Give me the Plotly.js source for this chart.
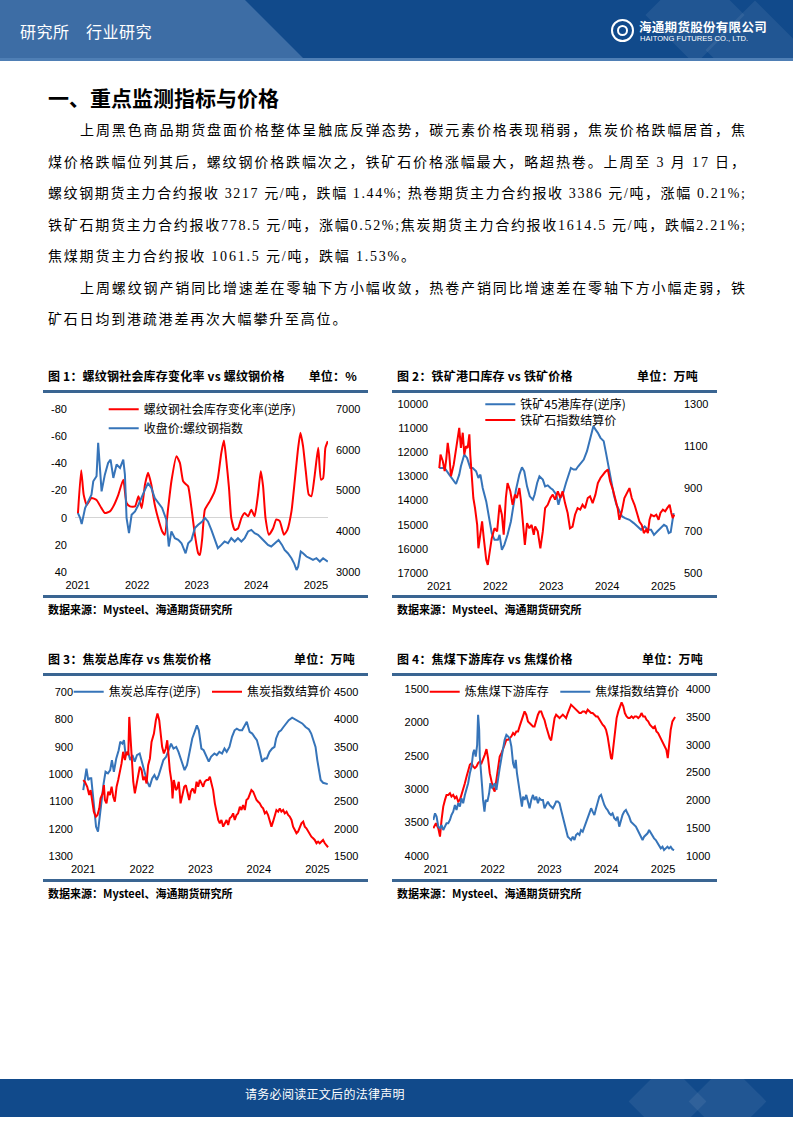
<!DOCTYPE html>
<html><head><meta charset="utf-8">
<script src="https://cdn.plot.ly/plotly-3.0.1.min.js"></script>
<style>
body{margin:0;width:793px;height:1122px;position:relative;background:#fff;overflow:hidden;font-family:"Noto Sans CJK SC",sans-serif;color:#000}
.a{position:absolute}
#hdr{left:0;top:0;width:793px;height:61px;background:#114a8b;overflow:hidden}
#hdrL{left:0;top:0;width:320px;height:61px;background:#3d6da5;clip-path:polygon(0 0,245px 0,306px 61px,0 61px)}
#hdrS{left:0;top:58px;width:793px;height:3px;background:#4f7fb5}
.dia{width:70px;height:70px;background:rgba(255,255,255,0.07);transform:rotate(45deg)}
#hdrT{left:20px;top:19px;font-size:16px;color:#fff;letter-spacing:0.5px;white-space:nowrap}
#logoC{left:611px;top:19px;width:19px;height:19px;border:2px solid #fff;border-radius:50%}
#logoC2{left:617px;top:25px;width:7px;height:7px;border:2px solid #fff;border-radius:50%}
#logoZh{left:639px;top:17px;font-size:12.5px;font-weight:bold;color:#fff;letter-spacing:0.3px;white-space:nowrap}
#logoEn{left:640px;top:34px;font-size:7.6px;color:#fff;font-family:"Liberation Sans",Arial,sans-serif;white-space:nowrap}
#h1{left:48px;top:83px;font-size:21px;font-weight:bold;white-space:nowrap;line-height:28px}
.ln{font-family:"Liberation Serif","Noto Sans CJK SC",serif;font-size:14px;line-height:20px;height:20px;white-space:nowrap;display:inline-block}
.ct{font-size:12px;font-weight:bold;line-height:16px;white-space:nowrap;letter-spacing:0.2px}
.rule{height:3px;background:#3a6592;width:325px}
.src{font-size:11px;font-weight:bold;line-height:14px;white-space:nowrap}
#ftr{left:0;top:1079px;width:793px;height:38px;background:#114a8b;overflow:hidden}
#ftrT{left:245px;top:1085px;font-size:12px;color:#fff;white-space:nowrap;letter-spacing:0.3px}
</style></head>
<body>
<div id="hdr" class="a">
  <div id="hdrL" class="a"></div>
  <div class="a dia" style="left:660px;top:-20px"></div>
  <div class="a dia" style="left:720px;top:15px"></div>
  <div id="hdrS" class="a"></div>
</div>
<div id="hdrT" class="a">研究所　行业研究</div>
<div id="logoC" class="a"></div>
<div id="logoC2" class="a"></div>
<div id="logoZh" class="a">海通期货股份有限公司</div>
<div id="logoEn" class="a">HAITONG FUTURES CO., LTD.</div>

<div id="h1" class="a">一、重点监测指标与价格</div>
<div class="a ln fit" data-w="665" style="left:80px;top:121px">上周黑色商品期货盘面价格整体呈触底反弹态势，碳元素价格表现稍弱，焦炭价格跌幅居首，焦</div>
<div class="a ln fit" data-w="697" style="left:48px;top:153px">煤价格跌幅位列其后，螺纹钢价格跌幅次之，铁矿石价格涨幅最大，略超热卷。上周至 3 月 17 日，</div>
<div class="a ln fit" data-w="697" style="left:48px;top:184px">螺纹钢期货主力合约报收 3217 元/吨，跌幅 1.44%; 热卷期货主力合约报收 3386 元/吨，涨幅 0.21%;</div>
<div class="a ln fit" data-w="697" style="left:48px;top:216px">铁矿石期货主力合约报收778.5 元/吨，涨幅0.52%;焦炭期货主力合约报收1614.5 元/吨，跌幅2.21%;</div>
<div class="a ln" style="left:48px;top:247px;letter-spacing:1.8px">焦煤期货主力合约报收 1061.5 元/吨，跌幅 1.53%。</div>
<div class="a ln fit" data-w="665" style="left:80px;top:279px">上周螺纹钢产销同比增速差在零轴下方小幅收敛，热卷产销同比增速差在零轴下方小幅走弱，铁</div>
<div class="a ln" style="left:48px;top:310px;letter-spacing:1.8px">矿石日均到港疏港差再次大幅攀升至高位。</div>

<div class="a ct" style="left:48px;top:368px">图 1：螺纹钢社会库存变化率 vs 螺纹钢价格</div>
<div class="a ct" style="left:257px;top:368px;width:100px;text-align:right">单位：%</div>
<div class="a rule" style="left:43px;top:390px"></div>
<div class="a rule" style="left:43px;top:595px"></div>
<div class="a src" style="left:48px;top:602px">数据来源：Mysteel、海通期货研究所</div>

<div class="a ct" style="left:397px;top:368px">图 2：铁矿港口库存 vs 铁矿价格</div>
<div class="a ct" style="left:598px;top:368px;width:100px;text-align:right">单位：万吨</div>
<div class="a rule" style="left:392px;top:390px"></div>
<div class="a rule" style="left:392px;top:595px"></div>
<div class="a src" style="left:397px;top:602px">数据来源：Mysteel、海通期货研究所</div>

<div class="a ct" style="left:48px;top:651px">图 3：焦炭总库存 vs 焦炭价格</div>
<div class="a ct" style="left:255px;top:651px;width:100px;text-align:right">单位：万吨</div>
<div class="a rule" style="left:43px;top:673px"></div>
<div class="a rule" style="left:43px;top:879px"></div>
<div class="a src" style="left:48px;top:886px">数据来源：Mysteel、海通期货研究所</div>

<div class="a ct" style="left:397px;top:651px">图 4：焦煤下游库存 vs 焦煤价格</div>
<div class="a ct" style="left:603px;top:651px;width:100px;text-align:right">单位：万吨</div>
<div class="a rule" style="left:392px;top:673px"></div>
<div class="a rule" style="left:392px;top:879px"></div>
<div class="a src" style="left:397px;top:886px">数据来源：Mysteel、海通期货研究所</div>

<div id="c1" class="a" style="left:43px;top:395px;width:325px;height:200px"></div>
<div id="c2" class="a" style="left:393px;top:395px;width:325px;height:200px"></div>
<div id="c3" class="a" style="left:43px;top:679px;width:325px;height:200px"></div>
<div id="c4" class="a" style="left:393px;top:679px;width:325px;height:200px"></div>

<div id="ftr" class="a">
  <div class="a dia" style="left:640px;top:-5px;width:55px;height:55px"></div>
  <div class="a dia" style="left:700px;top:-5px;width:55px;height:55px"></div>
</div>
<div id="ftrT" class="a">请务必阅读正文后的法律声明</div>

<script>
// ---------- shared tick labels ----------
const yearTickVals = ['2021-01-01','2022-01-01','2023-01-01','2024-01-01','2025-01-01'];
const yearTickText = ['2021','2022','2023','2024','2025'];

// ---------- Chart 1: rebar social inventory change rate (reversed) vs rebar index ----------
const c1RateName = '螺纹钢社会库存变化率(逆序)';
const c1RateDates = ['2021-01-03','2021-01-23','2021-02-07','2021-02-26','2021-03-27','2021-04-27','2021-05-27','2021-06-17','2021-07-18','2021-08-08',
 '2021-09-08','2021-10-08','2021-10-28','2021-11-18','2021-12-19','2022-01-09','2022-01-29','2022-02-18','2022-03-09','2022-03-29',
 '2022-04-19','2022-05-09','2022-06-03','2022-06-19','2022-07-10','2022-07-30','2022-08-30','2022-09-20','2022-10-10','2022-10-30',
 '2022-11-10','2022-11-30','2022-12-21','2023-01-10','2023-01-21','2023-02-04','2023-02-20','2023-03-22','2023-04-21','2023-05-11',
 '2023-06-01','2023-06-17','2023-07-01','2023-07-18','2023-08-01','2023-08-22','2023-09-11','2023-10-02','2023-10-22','2023-11-12',
 '2023-12-02','2023-12-22','2024-01-12','2024-01-29','2024-02-12','2024-02-27','2024-03-19','2024-04-13','2024-05-03','2024-05-24',
 '2024-06-19','2024-07-10','2024-08-04','2024-08-24','2024-09-14','2024-09-28','2024-10-14','2024-10-31','2024-11-18','2024-12-04',
 '2024-12-25','2025-01-15','2025-02-01','2025-02-14','2025-02-28','2025-03-15'];
const c1RateVals = [-3,-35,-17,-9.5,-14.5,-13,-7,-3.4,-4.6,-8.3,
 -17,-28,-10.8,-8.3,-8.3,-15.7,-7,-24.3,-33,-24.3,
 -9.5,0.3,10,12.6,-7,-26.8,-45.3,-40.3,-26.8,-24.3,
 -23,-7,12.6,26.2,27.4,15,-5.8,-12,-19.4,-29,
 -47.7,-56.8,-43,-21.9,0.3,9,8,0.3,-3.4,-1,
 -5.8,-1,-17,-34.2,-23,0.3,12.6,8,1.3,2.5,
 12.6,9,-4.6,-26.8,-51.4,-62.5,-52.6,-34,-17,-15.7,
 -31.7,-51.4,-28,-29,-51.4,-56.3];
const c1PriceName = '收盘价:螺纹钢指数';
const c1PriceDates = ['2021-01-03','2021-01-16','2021-01-26','2021-02-16','2021-03-07','2021-03-27','2021-04-07','2021-04-27','2021-05-07','2021-05-18',
 '2021-05-28','2021-06-17','2021-07-07','2021-07-22','2021-08-08','2021-08-28','2021-09-18','2021-10-08','2021-10-18','2021-10-28',
 '2021-11-12','2021-11-28','2021-12-19','2022-01-09','2022-01-29','2022-02-18','2022-03-09','2022-03-29','2022-04-19','2022-05-13',
 '2022-06-03','2022-06-29','2022-07-14','2022-07-30','2022-08-20','2022-09-10','2022-09-30','2022-10-25','2022-11-10','2022-11-30',
 '2022-12-21','2023-01-10','2023-02-04','2023-02-20','2023-03-11','2023-04-01','2023-04-21','2023-05-11','2023-06-01','2023-06-21',
 '2023-07-12','2023-08-01','2023-08-22','2023-09-11','2023-10-02','2023-10-22','2023-11-12','2023-12-02','2023-12-22','2024-01-12',
 '2024-02-02','2024-02-22','2024-03-13','2024-04-02','2024-04-23','2024-05-17','2024-06-07','2024-06-23','2024-07-13','2024-08-04',
 '2024-08-20','2024-09-04','2024-09-14','2024-09-30','2024-10-14','2024-11-04','2024-11-24','2024-12-14','2025-01-04','2025-01-25',
 '2025-02-14','2025-02-28','2025-03-15'];
const c1PriceVals = [4446,4330,4175,4570,4734,4897,5227,5350,6170,5389,
 4980,5390,5677,5759,5308,5636,5555,5759,5390,4330,
 3953,4404,4488,4650,4815,5020,5185,5062,4815,4692,
 4570,4282,3626,3995,3830,3788,3707,3460,3707,3788,
 4077,4158,4240,4330,4240,4034,3830,3584,3665,3749,
 3707,3830,3749,3830,3749,3830,3995,4034,3953,3913,
 3830,3749,3665,3626,3707,3788,3665,3542,3460,3338,
 3214,3050,3133,3502,3460,3380,3338,3296,3338,3256,
 3338,3296,3256];
const c1LeftTicks = [-80,-60,-40,-20,0,20,40];
const c1LeftText = ['-80','-60','-40','-20','0','20','40'];
const c1RightTicks = [3000,4000,5000,6000,7000];

// ---------- Chart 2: iron ore port inventory (reversed) vs iron ore index ----------
const c2StockName = '铁矿45港库存(逆序)';
const c2StockDates = ['2021-01-01','2021-02-05','2021-03-07','2021-03-29','2021-04-20','2021-05-11','2021-05-22','2021-06-13','2021-07-01','2021-07-22',
 '2021-08-07','2021-08-29','2021-09-13','2021-09-26','2021-10-11','2021-11-03','2021-11-24','2021-12-09','2021-12-27','2022-01-18',
 '2022-01-29','2022-02-13','2022-03-01','2022-03-22','2022-04-13','2022-05-01','2022-05-16','2022-06-07','2022-06-24','2022-07-09',
 '2022-07-27','2022-08-14','2022-09-03','2022-09-14','2022-10-01','2022-10-16','2022-11-07','2022-11-22','2022-12-09','2022-12-27',
 '2023-01-11','2023-02-03','2023-02-17','2023-03-01','2023-03-16','2023-04-07','2023-04-22','2023-05-09','2023-05-27','2023-06-11',
 '2023-06-26','2023-07-14','2023-08-01','2023-08-22','2023-09-07','2023-09-22','2023-10-03','2023-10-16','2023-11-01','2023-11-18',
 '2023-12-09','2023-12-24','2024-01-09','2024-01-27','2024-02-13','2024-03-01','2024-03-20','2024-04-07','2024-04-27','2024-05-25',
 '2024-06-22','2024-07-18','2024-08-09','2024-09-01','2024-09-22','2024-10-13','2024-11-01','2024-11-22','2024-12-13','2025-01-05',
 '2025-01-22','2025-02-05','2025-02-18','2025-03-03','2025-03-09'];
const c2StockVals = [12648,12648,12925,13133,13313,12925,12579,12094,12232,12648,
 12648,12787,13064,12925,13480,14034,14726,15350,15627,15627,
 15419,16043,15835,15419,14864,14172,13549,12925,12620,12787,
 13410,13826,13964,13757,13272,12994,13133,13410,13369,13480,
 13549,13757,14172,13895,13757,13272,12925,12648,12717,12717,
 12579,12440,12302,11955,11539,11262,10916,11054,11193,11401,
 11539,12024,12579,13202,13757,14172,14449,14657,14726,14796,
 14934,15073,15211,15073,15211,15211,15419,15281,15142,15004,
 15073,15350,15308,14796,14518];
const c2PriceName = '铁矿石指数结算价';
const c2PriceDates = ['2021-01-01','2021-01-09','2021-01-24','2021-02-05','2021-02-15','2021-02-25','2021-03-07','2021-03-18','2021-04-05','2021-04-20',
 '2021-05-01','2021-05-11','2021-05-22','2021-06-03','2021-06-13','2021-06-24','2021-07-05','2021-07-16','2021-07-22','2021-08-01',
 '2021-08-11','2021-08-22','2021-09-05','2021-09-13','2021-09-26','2021-10-07','2021-10-18','2021-11-03','2021-11-13','2021-11-24',
 '2021-12-09','2021-12-27','2022-01-13','2022-01-29','2022-02-13','2022-02-25','2022-03-11','2022-03-22','2022-04-09','2022-04-24',
 '2022-05-09','2022-05-22','2022-06-07','2022-06-18','2022-06-29','2022-07-13','2022-07-27','2022-08-11','2022-08-26','2022-09-09',
 '2022-09-18','2022-10-05','2022-10-22','2022-11-07','2022-11-22','2022-12-09','2022-12-27','2023-01-11','2023-01-26','2023-02-13',
 '2023-03-01','2023-03-16','2023-04-01','2023-04-18','2023-05-03','2023-05-20','2023-06-05','2023-06-22','2023-07-09','2023-07-24',
 '2023-08-09','2023-08-27','2023-09-11','2023-09-28','2023-10-16','2023-11-01','2023-11-18','2023-12-03','2023-12-18','2024-01-05',
 '2024-01-20','2024-02-07','2024-02-22','2024-03-09','2024-03-20','2024-04-05','2024-04-22','2024-05-07','2024-05-25','2024-06-09',
 '2024-06-27','2024-07-13','2024-07-29','2024-08-13','2024-08-27','2024-09-11','2024-09-22','2024-10-03','2024-10-13','2024-11-01',
 '2024-11-16','2024-12-01','2024-12-13','2024-12-29','2025-01-13','2025-01-26','2025-02-11','2025-02-22','2025-03-03','2025-03-13'];
const c2PriceVals = [997,1061,1029,982,1037,1116,1061,958,1013,1092,
 1124,1187,1092,1164,1061,1100,1092,1156,1061,966,
 855,807,728,617,697,744,665,562,538,602,
 665,712,697,823,776,681,855,926,887,823,
 871,855,902,839,728,633,736,712,728,681,
 720,697,617,697,807,823,855,871,847,887,
 855,887,831,784,712,720,776,807,800,823,
 807,855,863,831,871,926,950,966,978,990,
 934,895,855,807,752,792,855,879,902,855,
 823,784,744,728,689,705,689,752,776,768,
 776,752,784,800,792,807,823,784,760,776];
const c2LeftTicks = [10000,11000,12000,13000,14000,15000,16000,17000];
const c2RightTicks = [500,700,900,1100,1300];

// ---------- Chart 3: coke total inventory (reversed) vs coke index ----------
const c3StockName = '焦炭总库存(逆序)';
const c3StockDates = ['2021-01-01','2021-01-11','2021-01-21','2021-02-01','2021-02-11','2021-02-20','2021-03-02','2021-03-12','2021-03-22','2021-04-03',
 '2021-04-13','2021-04-23','2021-05-08','2021-05-20','2021-06-04','2021-06-18','2021-06-29','2021-07-11','2021-07-26','2021-08-10',
 '2021-08-20','2021-09-02','2021-09-12','2021-09-22','2021-10-07','2021-10-21','2021-11-04','2021-11-18','2021-12-02','2021-12-19',
 '2022-01-05','2022-01-19','2022-02-04','2022-02-19','2022-03-07','2022-03-21','2022-04-05','2022-04-17','2022-05-02','2022-05-16',
 '2022-06-02','2022-06-19','2022-07-03','2022-07-18','2022-08-04','2022-08-18','2022-09-05','2022-09-25','2022-10-10','2022-10-26',
 '2022-11-12','2022-11-27','2022-12-11','2022-12-23','2023-01-08','2023-01-22','2023-02-08','2023-02-23','2023-03-09','2023-03-30',
 '2023-04-14','2023-04-30','2023-05-17','2023-06-01','2023-06-15','2023-07-02','2023-07-18','2023-08-03','2023-08-17','2023-09-03',
 '2023-09-19','2023-10-04','2023-10-18','2023-11-05','2023-11-21','2023-12-05','2023-12-20','2024-01-06','2024-01-22','2024-02-06',
 '2024-02-20','2024-03-08','2024-03-24','2024-04-08','2024-04-18','2024-05-05','2024-05-19','2024-06-03','2024-06-20','2024-07-06',
 '2024-07-27','2024-08-17','2024-09-08','2024-09-28','2024-10-19','2024-11-09','2024-11-23','2024-12-08','2024-12-20','2024-12-31',
 '2025-01-11','2025-01-21','2025-02-05','2025-02-21','2025-03-06'];
const c3StockVals = [1059,1010,980,1022,1016,1016,1083,1144,1193,1211,
 1156,1095,1035,992,998,986,949,992,943,913,
 882,889,876,931,919,949,931,955,931,925,
 962,992,1028,1047,1016,1004,1022,1004,974,949,
 937,907,889,907,901,919,949,986,968,919,
 870,846,822,840,907,913,937,955,937,925,
 931,919,925,907,919,901,864,840,834,840,
 840,822,809,846,852,864,876,913,955,943,
 943,919,907,901,870,846,840,828,815,803,
 794,801,809,815,828,837,852,876,901,949,
 992,1022,1032,1035,1037];
const c3PriceName = '焦炭指数结算价';
const c3PriceDates = ['2021-01-01','2021-01-11','2021-01-26','2021-02-07','2021-02-16','2021-02-28','2021-03-08','2021-03-21','2021-03-31','2021-04-11',
 '2021-04-19','2021-05-02','2021-05-10','2021-05-16','2021-05-26','2021-06-06','2021-06-16','2021-06-27','2021-07-07','2021-07-17',
 '2021-07-28','2021-08-07','2021-08-18','2021-08-28','2021-09-07','2021-09-18','2021-09-28','2021-10-09','2021-10-15','2021-10-23',
 '2021-10-31','2021-11-09','2021-11-19','2021-11-29','2021-12-10','2021-12-20','2021-12-31','2022-01-10','2022-01-20','2022-01-31',
 '2022-02-10','2022-02-21','2022-03-03','2022-03-18','2022-03-30','2022-04-09','2022-04-20','2022-04-28','2022-05-08','2022-05-19',
 '2022-05-31','2022-06-09','2022-06-15','2022-06-25','2022-07-06','2022-07-12','2022-07-20','2022-08-02','2022-08-10','2022-08-20',
 '2022-08-31','2022-09-12','2022-09-23','2022-10-03','2022-10-11','2022-10-24','2022-11-03','2022-11-14','2022-11-28','2022-12-09',
 '2022-12-19','2022-12-29','2023-01-09','2023-01-19','2023-01-29','2023-02-09','2023-02-19','2023-03-02','2023-03-12','2023-03-22',
 '2023-04-02','2023-04-12','2023-04-23','2023-05-03','2023-05-13','2023-05-24','2023-06-03','2023-06-14','2023-06-24','2023-07-04',
 '2023-07-15','2023-07-25','2023-08-04','2023-08-15','2023-08-25','2023-09-05','2023-09-15','2023-09-25','2023-10-06','2023-10-16',
 '2023-10-27','2023-11-06','2023-11-16','2023-11-27','2023-12-07','2023-12-18','2023-12-28','2024-01-07','2024-01-18','2024-01-28',
 '2024-02-08','2024-02-18','2024-02-28','2024-03-10','2024-03-20','2024-03-30','2024-04-10','2024-04-20','2024-05-01','2024-05-11',
 '2024-05-21','2024-06-01','2024-06-11','2024-06-22','2024-07-02','2024-07-12','2024-07-23','2024-08-02','2024-08-13','2024-08-23',
 '2024-09-02','2024-09-13','2024-09-23','2024-10-04','2024-10-14','2024-10-24','2024-11-04','2024-11-14','2024-11-24','2024-12-05',
 '2024-12-15','2024-12-26','2025-01-05','2025-01-15','2025-01-26','2025-02-05','2025-02-16','2025-02-26','2025-03-08'];
const c3PriceVals = [2889,2858,2767,2615,2706,2463,2311,2220,2250,2372,
 2554,2645,2797,2524,2463,2676,2615,2767,2584,2493,
 2767,2889,3041,3193,3406,3254,3406,3345,4044,3588,
 3162,2858,2645,2797,2949,3132,3071,2889,2949,2828,
 3162,3284,3588,3740,3984,4105,3984,3710,3497,3375,
 3466,3618,3406,3071,2858,2554,2889,2706,2737,2858,
 2463,2615,2767,2797,2676,2524,2676,2737,2645,2858,
 2767,2889,2828,2767,2858,2889,2889,2949,2828,2706,
 2463,2280,2159,2098,2159,2037,2098,2159,2067,2189,
 2220,2280,2159,2250,2280,2402,2341,2432,2341,2524,
 2554,2645,2706,2676,2584,2524,2493,2463,2402,2372,
 2280,2311,2250,2159,2037,2128,2220,2341,2311,2372,
 2311,2341,2280,2311,2250,2220,2159,2037,1976,1915,
 1946,2037,2098,2128,2037,2007,1946,1885,1854,1824,
 1794,1733,1763,1733,1763,1794,1733,1702,1660];
const c3LeftTicks = [700,800,900,1000,1100,1200,1300];
const c3RightTicks = [1500,2000,2500,3000,3500,4000,4500];

// ---------- Chart 4: coking coal downstream inventory vs coking coal index ----------
const c4StockName = '炼焦煤下游库存';
const c4StockDates = ['2020-12-15','2021-01-01','2021-01-16','2021-01-27','2021-02-06','2021-02-17','2021-02-28','2021-03-10','2021-03-21','2021-04-01',
 '2021-04-11','2021-04-22','2021-05-03','2021-05-13','2021-05-24','2021-06-04','2021-06-14','2021-06-25','2021-07-06','2021-07-17',
 '2021-07-27','2021-08-07','2021-08-18','2021-08-28','2021-09-08','2021-09-19','2021-09-29','2021-10-10','2021-10-21','2021-10-31',
 '2021-11-11','2021-11-22','2021-12-02','2021-12-13','2021-12-24','2022-01-03','2022-01-14','2022-01-25','2022-02-04','2022-02-15',
 '2022-02-26','2022-03-08','2022-03-19','2022-03-30','2022-04-10','2022-04-20','2022-05-01','2022-05-12','2022-05-22','2022-06-02',
 '2022-06-13','2022-06-23','2022-07-04','2022-07-15','2022-07-25','2022-08-05','2022-08-16','2022-08-26','2022-09-06','2022-09-17',
 '2022-09-27','2022-10-08','2022-10-19','2022-10-29','2022-11-09','2022-11-20','2022-11-30','2022-12-11','2022-12-22','2023-01-02',
 '2023-01-12','2023-01-23','2023-02-03','2023-02-13','2023-02-24','2023-03-07','2023-03-17','2023-03-28','2023-04-08','2023-04-18',
 '2023-04-29','2023-05-10','2023-05-20','2023-05-31','2023-06-11','2023-06-21','2023-07-02','2023-07-13','2023-07-23','2023-08-03',
 '2023-08-14','2023-08-24','2023-09-04','2023-09-15','2023-09-26','2023-10-06','2023-10-17','2023-10-28','2023-11-07','2023-11-18',
 '2023-11-29','2023-12-09','2023-12-20','2023-12-31','2024-01-10','2024-01-21','2024-02-01','2024-02-07','2024-02-16','2024-02-26',
 '2024-03-08','2024-03-19','2024-03-29','2024-04-09','2024-04-20','2024-04-30','2024-05-11','2024-05-22','2024-06-01','2024-06-12',
 '2024-06-23','2024-07-03','2024-07-14','2024-07-25','2024-08-05','2024-08-15','2024-08-26','2024-09-06','2024-09-16','2024-09-27',
 '2024-10-08','2024-10-18','2024-10-29','2024-11-09','2024-11-19','2024-11-30','2024-12-11','2024-12-21','2025-01-01','2025-01-12',
 '2025-01-22','2025-01-31','2025-02-08','2025-02-19','2025-03-02','2025-03-13','2025-03-19'];
const c4StockVals = [3585,3510,3585,3710,3460,3260,3160,3085,3085,3060,
 3110,3085,3135,3110,3185,3160,3085,3010,2910,2810,
 2710,2635,2610,2660,2685,2660,2610,2585,2610,2560,
 2485,2400,2535,2760,2885,2985,3035,2860,2660,2510,
 2460,2385,2335,2260,2260,2235,2210,2160,2185,2135,
 2135,2060,1985,1910,1835,1885,1985,2010,2035,2060,
 2060,1960,1885,1835,1835,1910,1960,2060,2160,2235,
 2270,2110,1935,1885,1910,1935,1910,1885,1910,1935,
 1860,1785,1735,1760,1785,1810,1835,1860,1860,1835,
 1835,1860,1810,1835,1860,1860,1885,1910,1910,1960,
 2010,2035,2060,2110,2210,2360,2535,2550,2360,2110,
 1935,1835,1760,1700,1760,1860,1910,1935,1935,1910,
 1935,1910,1910,1935,1910,1860,1910,1910,1960,1985,
 2035,2060,2085,2060,2135,2160,2210,2260,2310,2360,
 2410,2535,2335,2110,1985,1935,1920];
const c4PriceName = '焦煤指数结算价';
const c4PriceDates = ['2020-12-15','2020-12-26','2021-01-05','2021-01-16','2021-01-27','2021-02-06','2021-02-17','2021-02-28','2021-03-10','2021-03-21',
 '2021-04-01','2021-04-11','2021-04-22','2021-05-03','2021-05-13','2021-05-24','2021-06-04','2021-06-14','2021-06-25','2021-07-06',
 '2021-07-17','2021-07-27','2021-08-07','2021-08-18','2021-08-28','2021-09-04','2021-09-14','2021-09-23','2021-09-29','2021-10-06',
 '2021-10-10','2021-10-16','2021-10-25','2021-10-31','2021-11-09','2021-11-17','2021-11-28','2021-12-09','2021-12-17','2021-12-26',
 '2022-01-03','2022-01-14','2022-01-25','2022-02-04','2022-02-15','2022-02-26','2022-03-08','2022-03-19','2022-03-30','2022-04-10',
 '2022-04-20','2022-05-01','2022-05-12','2022-05-22','2022-05-29','2022-06-06','2022-06-17','2022-06-28','2022-07-08','2022-07-15',
 '2022-07-25','2022-08-05','2022-08-16','2022-08-26','2022-09-06','2022-09-17','2022-09-27','2022-10-08','2022-10-19','2022-10-29',
 '2022-11-09','2022-11-20','2022-11-30','2022-12-11','2022-12-22','2023-01-02','2023-01-12','2023-01-23','2023-02-03','2023-02-13',
 '2023-02-24','2023-03-07','2023-03-17','2023-03-28','2023-04-08','2023-04-18','2023-04-29','2023-05-10','2023-05-20','2023-05-31',
 '2023-06-11','2023-06-21','2023-07-02','2023-07-13','2023-07-23','2023-08-03','2023-08-14','2023-08-24','2023-09-04','2023-09-15',
 '2023-09-26','2023-10-06','2023-10-17','2023-10-28','2023-11-07','2023-11-18','2023-11-29','2023-12-09','2023-12-20','2023-12-31',
 '2024-01-10','2024-01-21','2024-02-01','2024-02-11','2024-02-22','2024-03-04','2024-03-14','2024-03-25','2024-04-05','2024-04-15',
 '2024-04-26','2024-05-07','2024-05-17','2024-05-28','2024-06-08','2024-06-19','2024-06-29','2024-07-10','2024-07-21','2024-07-31',
 '2024-08-11','2024-08-22','2024-09-01','2024-09-12','2024-09-23','2024-10-03','2024-10-14','2024-10-25','2024-11-04','2024-11-15',
 '2024-11-26','2024-12-06','2024-12-17','2024-12-28','2025-01-07','2025-01-18','2025-01-29','2025-02-08','2025-02-19','2025-03-02',
 '2025-03-13'];
const c4PriceVals = [1647,1767,1707,1527,1497,1557,1467,1527,1587,1587,
 1647,1737,1797,1917,1827,1947,1887,2037,1947,2097,
 2187,2307,2487,2607,2847,2907,2787,2997,3537,3267,
 2787,2487,2247,2007,1797,2007,1977,2127,2307,2217,
 2247,2307,2187,2427,2577,2757,2907,3087,3177,3147,
 3117,2967,2667,2577,2727,2487,2247,2007,1887,2067,
 2007,2097,1947,1857,2007,2097,2007,2067,1947,2037,
 2007,2007,1857,1917,1977,1917,1887,1857,1917,1977,
 1977,1947,1827,1707,1587,1437,1347,1317,1287,1347,
 1287,1377,1407,1377,1467,1437,1527,1587,1707,1797,
 1857,1797,1737,1857,1977,2067,2097,2007,1917,1857,
 1827,1767,1737,1767,1677,1647,1707,1527,1647,1737,
 1797,1827,1767,1707,1617,1587,1557,1527,1467,1407,
 1347,1287,1347,1377,1407,1467,1407,1347,1317,1287,
 1227,1197,1137,1167,1107,1137,1167,1137,1167,1119,
 1107];
const c4LeftTicks = [1500,2000,2500,3000,3500,4000];
const c4RightTicks = [1000,1500,2000,2500,3000,3500,4000];

// ---------- paragraph line fitting (even character spacing) ----------
function fitLines() {
  document.querySelectorAll('.fit').forEach(function (el) {
    const target = parseFloat(el.dataset.w);
    el.style.letterSpacing = '0px';
    const nat = el.getBoundingClientRect().width;
    const n = Array.from(el.textContent).length;
    el.style.letterSpacing = ((target - nat) / (n - 1)) + 'px';
  });
}
fitLines();
if (document.fonts && document.fonts.ready) document.fonts.ready.then(fitLines);

// ---------- styling ----------
const RED = '#ff0000';
const BLUE = '#3674b9';
const tickFont = {family:'"Liberation Sans", Arial, sans-serif', size:11, color:'#000'};
const legFont = {family:'"Noto Sans CJK SC", sans-serif', size:12, color:'#000'};
const W = 325, H = 200;

function leg(px, py) {
  return {x: px / W, y: 1 - py / H, xref:'container', yref:'container', xanchor:'left', yanchor:'middle',
          bgcolor:'rgba(0,0,0,0)', borderwidth:0, font:legFont, orientation:'v', itemclick:false};
}
function yAx(range, vals, text, side, standoff, extra) {
  const a = {range: range, tickvals: vals, ticktext: text || vals.map(String), showgrid:false, zeroline:false,
    showline:false, ticks:'', tickfont:tickFont, ticklabelstandoff: standoff, fixedrange:true};
  if (side === 'right') { a.overlaying = 'y'; a.side = 'right'; }
  return Object.assign(a, extra || {});
}
function xAx(range) {
  return {type:'date', range: range, tickvals: yearTickVals, ticktext: yearTickText, showgrid:false, zeroline:false,
    showline:false, ticks:'', tickfont:tickFont, ticklabelstandoff: 5, fixedrange:true};
}
function line(x, y, name, color, yaxis, legend, shape) {
  return {type:'scatter', mode:'lines', x:x, y:y, name:name, yaxis:yaxis, legend:legend, hoverinfo:'skip',
          line:{color:color, width:2, shape: shape || 'linear', smoothing:0.5}};
}
function baseLayout(margin) {
  return {width:W, height:H, margin:Object.assign({pad:0, autoexpand:false}, margin),
          paper_bgcolor:'rgba(0,0,0,0)', plot_bgcolor:'rgba(0,0,0,0)', showlegend:true};
}
const cfg = {staticPlot:true, displayModeBar:false};

// Chart 1
Plotly.newPlot('c1', [
  line(c1RateDates, c1RateVals, c1RateName, RED, 'y', 'legend', 'spline'),
  line(c1PriceDates, c1PriceVals, c1PriceName, BLUE, 'y2', 'legend2')
], Object.assign(baseLayout({l:32, r:40, t:14.3, b:23.3}), {
  xaxis: xAx(['2020-12-16','2025-03-16']),
  yaxis: yAx([40,-80], c1LeftTicks, c1LeftText, 'left', 7, {zeroline:true, zerolinecolor:'#d4d4d4', zerolinewidth:1}),
  yaxis2: yAx([3000,7000], c1RightTicks, null, 'right', 7),
  legend: leg(60.7, 14.3), legend2: leg(60.7, 33.3)
}), cfg);

// Chart 2
Plotly.newPlot('c2', [
  line(c2StockDates, c2StockVals, c2StockName, BLUE, 'y', 'legend'),
  line(c2PriceDates, c2PriceVals, c2PriceName, RED, 'y2', 'legend2')
], Object.assign(baseLayout({l:44, r:43, t:9.3, b:22.3}), {
  xaxis: xAx(['2020-12-17','2025-03-18']),
  yaxis: yAx([17000,10000], c2LeftTicks, null, 'left', 8),
  yaxis2: yAx([500,1300], c2RightTicks, null, 'right', 8),
  legend: leg(87.3, 9.3), legend2: leg(87.3, 25)
}), cfg);

// Chart 3
Plotly.newPlot('c3', [
  line(c3StockDates, c3StockVals, c3StockName, BLUE, 'y', 'legend'),
  line(c3PriceDates, c3PriceVals, c3PriceName, RED, 'y2', 'legend2')
], Object.assign(baseLayout({l:38, r:38.7, t:12.7, b:23}), {
  xaxis: xAx(['2020-12-18','2025-03-14']),
  yaxis: yAx([1300,700], c3LeftTicks, null, 'left', 7),
  yaxis2: yAx([1500,4500], c3RightTicks, null, 'right', 4),
  legend: leg(25.7, 12.7), legend2: leg(164, 12.7)
}), cfg);

// Chart 4
Plotly.newPlot('c4', [
  line(c4StockDates, c4StockVals, c4StockName, RED, 'y', 'legend'),
  line(c4PriceDates, c4PriceVals, c4PriceName, BLUE, 'y2', 'legend2')
], Object.assign(baseLayout({l:40, r:42, t:10.3, b:23}), {
  xaxis: xAx(['2020-12-13','2025-03-25']),
  yaxis: yAx([4000,1500], c4LeftTicks, null, 'left', 3),
  yaxis2: yAx([1000,4000], c4RightTicks, null, 'right', 9),
  legend: leg(31.7, 12.7), legend2: leg(162.3, 12.7)
}), cfg);
</script>
</body></html>
